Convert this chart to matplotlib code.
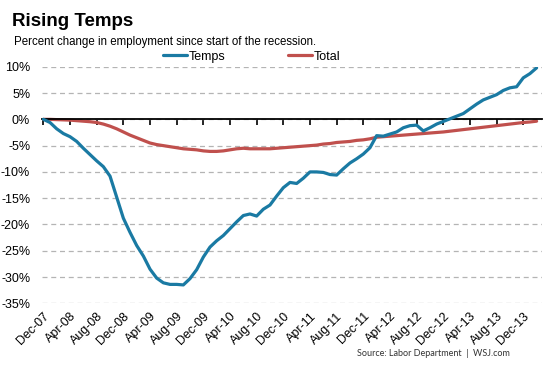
import matplotlib.pyplot as plt
from matplotlib.ticker import FuncFormatter

# monthly values, Dec-07 through Feb-14 (percent change since Dec-07)
temps = [0.0, -0.6, -1.8, -2.7, -3.3, -4.2, -5.5, -6.7, -7.9, -9.0,
         -10.8, -14.8, -18.8, -21.5, -24.0, -26.0, -28.5, -30.2, -31.1, -31.4,
         -31.4, -31.5, -30.3, -28.6, -26.2, -24.3, -23.1, -22.1, -20.8, -19.5,
         -18.3, -18.0, -18.4, -17.1, -16.3, -14.6, -13.0, -12.0, -12.2, -11.2,
         -10.0, -10.0, -10.1, -10.5, -10.6, -9.4, -8.3, -7.5, -6.6, -5.4,
         -3.1, -3.2, -2.8, -2.4, -1.6, -1.2, -1.1, -2.2, -1.6, -0.9,
         -0.4, 0.1, 0.6, 1.1, 2.0, 2.9, 3.7, 4.2, 4.7, 5.5,
         6.0, 6.2, 7.9, 8.7, 9.8]
total = [0.0, 0.0, -0.05, -0.1, -0.15, -0.25, -0.35, -0.45, -0.6, -0.9,
         -1.3, -1.8, -2.4, -3.0, -3.5, -4.0, -4.5, -4.8, -5.0, -5.2,
         -5.4, -5.6, -5.7, -5.8, -6.0, -6.1, -6.1, -6.0, -5.8, -5.6,
         -5.5, -5.6, -5.6, -5.6, -5.6, -5.5, -5.4, -5.3, -5.2, -5.1,
         -5.0, -4.9, -4.7, -4.6, -4.4, -4.3, -4.2, -4.0, -3.9, -3.7,
         -3.4, -3.3, -3.2, -3.1, -3.0, -2.9, -2.8, -2.7, -2.6, -2.5,
         -2.4, -2.25, -2.1, -1.95, -1.8, -1.65, -1.5, -1.35, -1.2, -1.05,
         -0.9, -0.75, -0.6, -0.5, -0.35]
tick_labels = ['Dec-07', 'Apr-08', 'Aug-08', 'Dec-08', 'Apr-09', 'Aug-09', 'Dec-09',
               'Apr-10', 'Aug-10', 'Dec-10', 'Apr-11', 'Aug-11', 'Dec-11', 'Apr-12',
               'Aug-12', 'Dec-12', 'Apr-13', 'Aug-13', 'Dec-13']
y_ticks = [10, 5, 0, -5, -10, -15, -20, -25, -30, -35]

plt.rcParams['font.family'] = ['Liberation Sans', 'DejaVu Sans']

fig = plt.figure(figsize=(5.53, 3.69), dpi=100)
ax = fig.add_axes([0.076, 0.178, 0.904, 0.641])

x = list(range(len(temps)))
ax.plot(x, temps, color='#1a7aa3', lw=2.3, label='Temps', solid_capstyle='round', zorder=3)
ax.plot(x, total, color='#c0504d', lw=2.3, label='Total', solid_capstyle='round', zorder=2)

ax.set_xlim(-0.2, 74.8)
ax.set_ylim(-35, 10)
ax.set_yticks(y_ticks)
ax.yaxis.set_major_formatter(FuncFormatter(lambda v, p: f'{v:.0f}%'))
ax.tick_params(axis='y', length=0, pad=8.5, labelsize=9)
ax.grid(axis='y', color='#b4b4b4', linestyle=(0, (4, 3)), lw=0.9)
ax.set_axisbelow(True)

for s in ['top', 'right', 'left']:
    ax.spines[s].set_visible(False)
ax.spines['bottom'].set_position(('data', 0))
ax.spines['bottom'].set_linewidth(1.3)
ax.spines['bottom'].set_zorder(2.5)

tick_pos = x[::4][:len(tick_labels)]
ax.set_xticks(tick_pos)
ax.tick_params(axis='x', direction='out', length=4, width=1.2, labelbottom=False)

sec = ax.secondary_xaxis(-0.0)
sec.set_xticks(tick_pos, tick_labels)
sec.tick_params(length=0, pad=5, labelsize=9)
sec.spines['bottom'].set_visible(False)
for lab in sec.get_xticklabels():
    lab.set_rotation(45)
    lab.set_ha('right')
    lab.set_rotation_mode('anchor')

fig.text(0.022, 0.929, 'Rising Temps', fontsize=13.5, fontweight='bold')
fig.text(0.025, 0.879, 'Percent change in employment since start of the recession.', fontsize=8.3)
fig.legend(loc='center', bbox_to_anchor=(0.455, 0.846), ncol=2, frameon=False,
           fontsize=9, handlelength=1.9, handletextpad=0.15, columnspacing=5.0)
fig.text(0.922, 0.035, 'Source: Labor Department  |  WSJ.com', fontsize=6.5,
         family=['Lato', 'DejaVu Sans'], ha='right', color='#333333')

fig.savefig('out.png', dpi=100)
